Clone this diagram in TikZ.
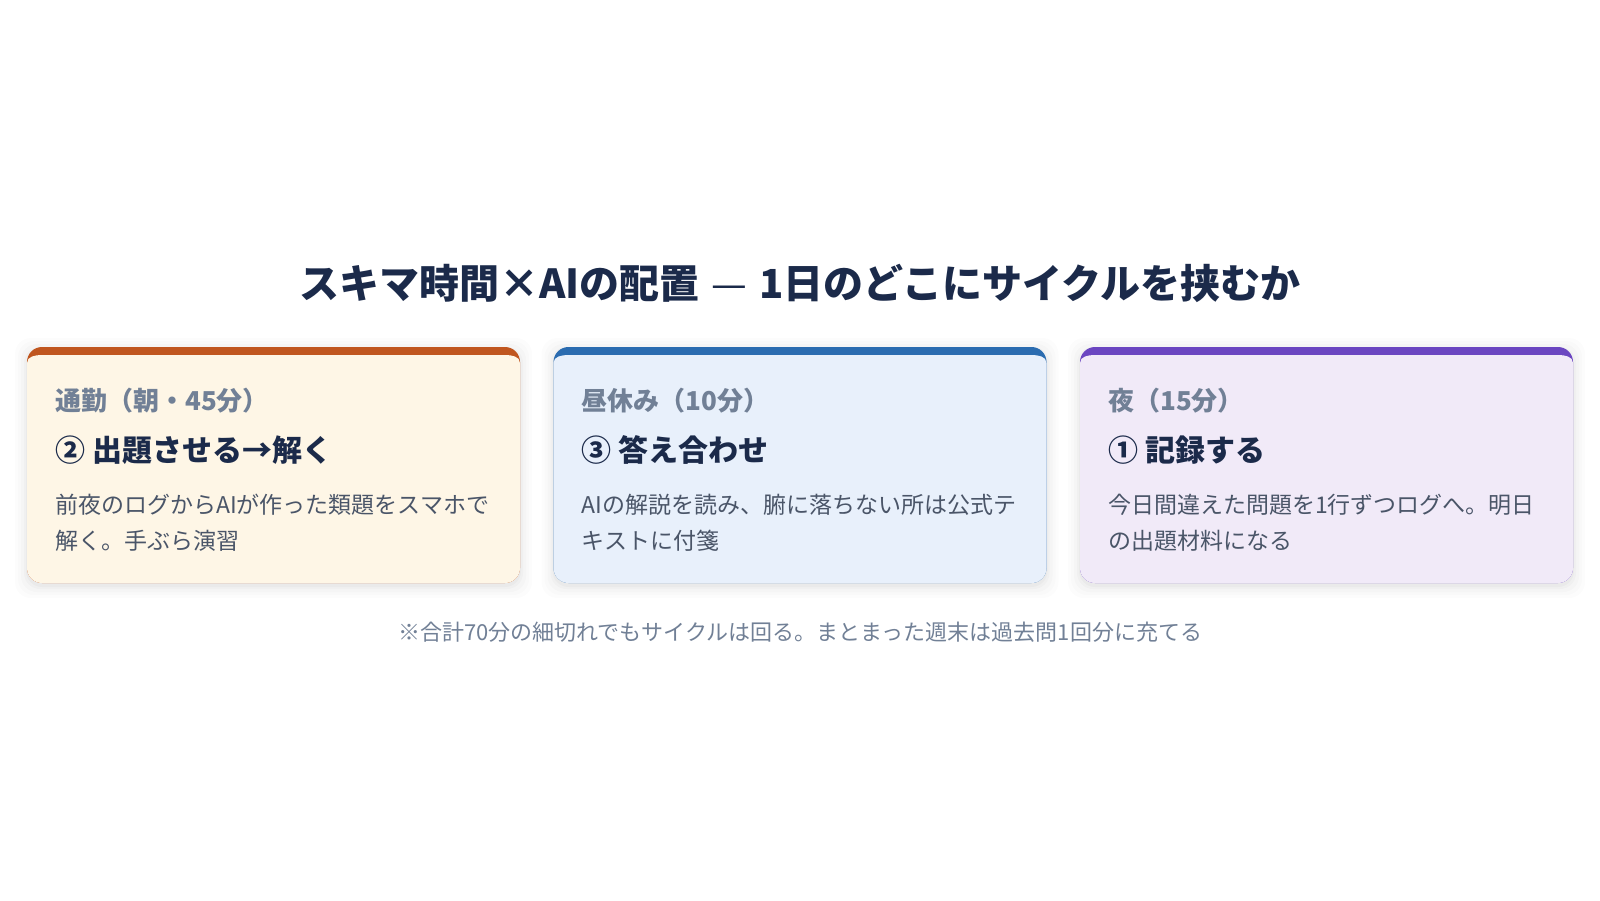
\documentclass[tikz,border=0pt]{standalone}
\usepackage{fontspec}
\setmainfont{Noto Sans CJK JP}
\definecolor{navy}{HTML}{1B2A4A}
\definecolor{labelgray}{HTML}{718096}
\definecolor{bodygray}{HTML}{4A5568}
\definecolor{bgA}{HTML}{FEF6E6}
\definecolor{bdA}{HTML}{C0561F}
\definecolor{bgB}{HTML}{E8F0FB}
\definecolor{bdB}{HTML}{2B6CB0}
\definecolor{bgC}{HTML}{F1EAF8}
\definecolor{bdC}{HTML}{6B46C1}
\tikzset{
  cardlabel/.style={anchor=west, inner sep=0pt, text=labelgray, font=\fontsize{26}{30}\selectfont\bfseries},
  cardtitle/.style={anchor=west, inner sep=0pt, text=navy, font=\fontsize{30}{34}\selectfont\bfseries},
  cardbody/.style={anchor=west, inner sep=0pt, text=bodygray, font=\fontsize{23}{28}\selectfont},
}
\newcommand{\mycard}[4]{% x0, bg, border, name
  \begin{scope}
    \foreach \s/\op in {12/0.010,9/0.013,6/0.016,3/0.020,1/0.022}{
      \fill[black, opacity=\op, rounded corners=16pt] (#1-\s, 347-\s+3) rectangle (#1+493+\s, 583+\s+3);
    }
    \fill[#3, rounded corners=15pt] (#1,347) rectangle (#1+493,583);
    \fill[#2] (#1,583-15) -- (#1,355+8) to[out=90,in=180] (#1+15,355) -- (#1+493-15,355) to[out=0,in=90] (#1+493,355+8) -- (#1+493,583-15) arc[start angle=0,end angle=-90,radius=15pt] -- (#1+15,583) arc[start angle=270,end angle=180,radius=15pt] -- cycle;
    \coordinate (#4) at (#1,347);
  \end{scope}
}
\begin{document}
\begin{tikzpicture}[x=1pt,y=-1pt]
\useasboundingbox (0,0) rectangle (1600,900);
\fill[white] (0,0) rectangle (1600,900);
\node[inner sep=0pt, text=navy, font=\fontsize{40}{46}\selectfont\bfseries] (title) at (800,283) {スキマ時間×AIの配置\hspace{0.3em}{\mdseries —}\hspace{0.3em}1日のどこにサイクルを挟むか};

\mycard{27}{bgA}{bdA}{cardA}
\mycard{553.5}{bgB}{bdB}{cardB}
\mycard{1080}{bgC}{bdC}{cardC}

\node[cardlabel] (labA) at (55,401) {通勤（朝・45分）};
\node[cardtitle] (titA) at (55,450) {② 出題させる→解く};
\node[cardbody] (bodyA1) at (55,505) {前夜のログからAIが作った類題をスマホで};
\node[cardbody] (bodyA2) at (55,541) {解く。手ぶら演習};

\node[cardlabel] (labB) at (581.5,401) {昼休み（10分）};
\node[cardtitle] (titB) at (581.5,450) {③ 答え合わせ};
\node[cardbody] (bodyB1) at (581.5,505) {AIの解説を読み、腑に落ちない所は公式テ};
\node[cardbody] (bodyB2) at (581.5,541) {キストに付箋};

\node[cardlabel] (labC) at (1108,401) {夜（15分）};
\node[cardtitle] (titC) at (1108,450) {① 記録する};
\node[cardbody] (bodyC1) at (1108,505) {今日間違えた問題を1行ずつログへ。明日};
\node[cardbody] (bodyC2) at (1108,541) {の出題材料になる};

\node[inner sep=0pt, text=labelgray, font=\fontsize{22}{26}\selectfont] (foot) at (800,632) {※合計70分の細切れでもサイクルは回る。まとまった週末は過去問1回分に充てる};
\end{tikzpicture}
\end{document}
